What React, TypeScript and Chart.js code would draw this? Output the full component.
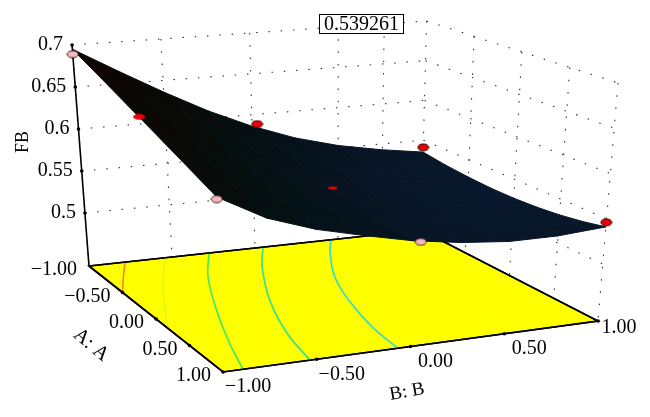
import React, { useEffect, useRef } from "react";
import { Chart, registerables } from "chart.js";

Chart.register(...registerables);

// ---- data ----
const bLevels = [-1, -0.75, -0.5, -0.25, 0, 0.25, 0.5, 0.75, 1];
const aLevels = [-1, -0.75, -0.5, -0.25, 0, 0.25, 0.5, 0.75, 1];
const surfaceAm100 = [0.695, 0.665, 0.636, 0.609, 0.586, 0.567, 0.553, 0.543, 0.535];
const surfaceAm075 = [0.6846, 0.6541, 0.6257, 0.6, 0.5778, 0.56, 0.5469, 0.538, 0.5313];
const surfaceAm050 = [0.6745, 0.6438, 0.6163, 0.5919, 0.5707, 0.554, 0.5419, 0.5344, 0.529];
const surfaceAm025 = [0.6645, 0.6339, 0.6075, 0.5848, 0.5645, 0.5492, 0.5382, 0.5319, 0.5278];
const surfaceA000 = [0.655, 0.6245, 0.5994, 0.5785, 0.5595, 0.5455, 0.5355, 0.5306, 0.528];
const surfaceA025 = [0.6457, 0.6156, 0.5921, 0.5733, 0.5555, 0.543, 0.534, 0.5305, 0.5294];
const surfaceA050 = [0.6368, 0.6073, 0.5857, 0.5689, 0.5526, 0.5415, 0.5339, 0.5317, 0.532];
const surfaceA075 = [0.628, 0.5995, 0.5799, 0.5655, 0.5506, 0.5412, 0.5347, 0.5342, 0.5359];
const surfaceA100 = [0.6196, 0.592, 0.5745, 0.562, 0.5505, 0.5425, 0.5375, 0.5373, 0.541];
const surfaceRows = [
  surfaceAm100, surfaceAm075, surfaceAm050, surfaceAm025, surfaceA000,
  surfaceA025, surfaceA050, surfaceA075, surfaceA100,
];

const designA = [-1, -0.08, 1, -1, 0, -1, 1, 1];
const designB = [-1, -1, -1, 0.03, 0, 1, 0.04, 1];
const designZ = [0.689, 0.6584, 0.6175, 0.588, 0.562, 0.541, 0.5484, 0.546];
const designKind = ["pink", "flat", "pink", "red", "sliver", "red", "pink", "red"];

const zTicks = [0.5, 0.55, 0.6, 0.65, 0.7];
const abTicks = [-1, -0.5, 0, 0.5, 1];
const abTickLabels = ["\u22121.00", "\u22120.50", "0.00", "0.50", "1.00"];
const zTickLabels = ["0.5", "0.55", "0.6", "0.65", "0.7"];
const wallBVerticals = [-1, -0.5, 0, 0.5, 0.76, 1];
const wallAVerticals = [-0.5, 0, 0.5, 1];
const readout = "0.539261";

const contourOrange = [[-1, -0.783], [-0.74, -0.9], [-0.5, -1]];
const contourLime = [[-1, -0.542], [-0.73, -0.666], [-0.462, -0.779], [-0.13, -0.9], [0.18, -1]];
const contourGreen = [[-1, -0.277], [-0.594, -0.461], [-0.024, -0.648], [0.546, -0.798], [1, -0.893]];
const contourTeal = [[-1, 0.048], [-0.66, -0.114], [-0.082, -0.322], [0.502, -0.466], [1, -0.536]];
const contourCyan = [[-1, 0.458], [-0.77, 0.34], [-0.342, 0.166], [0.08, 0.054], [0.586, -0.034], [1, -0.067]];

// ---- camera of the 3D box ----
const Z_FLOOR = 0.437;
const Z_TOP = 0.7;
const C00 = [89, 266];
const C10 = [223, 372];
const C01 = [421, 230];
const C11 = [598, 321];
const HEIGHTS = { h00: 221, h10: 252, h01: 209, h11: 238 };
const VP = [334, 3458];

function project(a: number, b: number, z: number) {
  const u = (a + 1) / 2;
  const v = (b + 1) / 2;
  const mix = (p00: number, p10: number, p01: number, p11: number) =>
    p00 * (1 - u) * (1 - v) + p10 * u * (1 - v) + p01 * (1 - u) * v + p11 * u * v;
  const fx = mix(C00[0], C10[0], C01[0], C11[0]);
  const fy = mix(C00[1], C10[1], C01[1], C11[1]);
  const h = mix(HEIGHTS.h00, HEIGHTS.h10, HEIGHTS.h01, HEIGHTS.h11);
  const t = (z - Z_FLOOR) / (Z_TOP - Z_FLOOR);
  return { x: fx + ((fx - VP[0]) / (VP[1] - fy)) * h * t, y: fy - h * t };
}

function surfaceColor(z: number) {
  const stops: [number, number[]][] = [
    [0.525, [10, 24, 46]],
    [0.55, [7, 20, 34]],
    [0.585, [4, 16, 20]],
    [0.63, [8, 10, 6]],
    [0.695, [16, 3, 3]],
  ];
  for (let i = 1; i < stops.length; i++) {
    if (z <= stops[i][0]) {
      const [z0, c0] = stops[i - 1];
      const [z1, c1] = stops[i];
      const t = Math.max(0, (z - z0) / (z1 - z0));
      return `rgb(${c0.map((c, k) => Math.round(c + (c1[k] - c) * t)).join(",")})`;
    }
  }
  return "rgb(16,3,3)";
}

function ellipse(w: number, h: number, fill: string, stroke: string | null) {
  const c = document.createElement("canvas");
  c.width = w + 2;
  c.height = h + 2;
  const g = c.getContext("2d")!;
  g.beginPath();
  g.ellipse(c.width / 2, c.height / 2, w / 2, h / 2, 0, 0, Math.PI * 2);
  g.fillStyle = fill;
  g.fill();
  if (stroke) {
    g.strokeStyle = stroke;
    g.lineWidth = 1;
    g.stroke();
  }
  return c;
}

const lineBase = {
  showLine: true,
  pointRadius: 0,
  fill: false,
  clip: false as const,
};

export default function App() {
  const ref = useRef<HTMLCanvasElement>(null);
  useEffect(() => {
    document.body.style.margin = "0";
    const styles: Record<string, HTMLCanvasElement> = {
      pink: ellipse(11, 7, "#f5b9bd", "#3a1a1a"),
      red: ellipse(11, 7, "#e60008", "#300000"),
      flat: ellipse(12, 6, "#e60008", null),
      sliver: ellipse(9, 3, "#e60008", null),
    };
    const datasets: any[] = [];

    // walls
    const dotted = { ...lineBase, borderColor: "#333", borderWidth: 1.1, borderDash: [1.5, 10.8], order: 50 };
    const span = [-1, 1];
    zTicks.forEach((z) => {
      datasets.push({ ...dotted, data: span.map((b) => project(-1, b, z)) });
      datasets.push({ ...dotted, data: span.map((a) => project(a, 1, z)) });
    });
    wallBVerticals.forEach((b) => {
      datasets.push({ ...dotted, data: [project(-1, b, Z_TOP), project(-1, b, Z_FLOOR)] });
    });
    wallAVerticals.forEach((a) => {
      datasets.push({ ...dotted, data: [project(a, 1, Z_TOP), project(a, 1, Z_FLOOR)] });
    });

    // floor
    datasets.push({
      ...lineBase,
      order: 40,
      fill: "shape",
      backgroundColor: "#ffff00",
      borderColor: "#000",
      borderWidth: 1.6,
      data: [project(-1, -1, Z_FLOOR), project(1, -1, Z_FLOOR), project(1, 1, Z_FLOOR), project(-1, 1, Z_FLOOR), project(-1, -1, Z_FLOOR)],
    });

    // contours
    const contours: [number[][], string, number][] = [
      [contourOrange, "#f08a1e", 1.6],
      [contourLime, "#c4f52a", 1],
      [contourGreen, "#46e862", 1.7],
      [contourTeal, "#34e48c", 1.7],
      [contourCyan, "#36dcc4", 1.7],
    ];
    contours.forEach(([pts, color, w]) => {
      datasets.push({
        ...lineBase,
        order: 30,
        borderColor: color,
        borderWidth: w,
        tension: 0.4,
        data: pts.map(([a, b]) => project(a, b, Z_FLOOR)),
      });
    });

    // floor frame and axes above contours
    datasets.push({
      ...lineBase,
      order: 25,
      borderColor: "#000",
      borderWidth: 1.6,
      data: [project(-1, 1, Z_FLOOR), project(-1, -1, Z_FLOOR), project(1, -1, Z_FLOOR), project(1, 1, Z_FLOOR), project(-1, 1, Z_FLOOR)],
    });
    datasets.push({
      ...lineBase,
      order: 25,
      borderColor: "#000",
      borderWidth: 1.6,
      data: [project(-1, -1, Z_TOP), project(-1, -1, Z_FLOOR)],
    });

    // surface
    for (let i = 0; i < aLevels.length - 1; i++) {
      for (let j = 0; j < bLevels.length - 1; j++) {
        const zs = [surfaceRows[i][j], surfaceRows[i + 1][j], surfaceRows[i + 1][j + 1], surfaceRows[i][j + 1]];
        const color = surfaceColor((zs[0] + zs[1] + zs[2] + zs[3]) / 4);
        const corners = [
          project(aLevels[i], bLevels[j], zs[0]),
          project(aLevels[i + 1], bLevels[j], zs[1]),
          project(aLevels[i + 1], bLevels[j + 1], zs[2]),
          project(aLevels[i], bLevels[j + 1], zs[3]),
        ];
        datasets.push({
          ...lineBase,
          order: 20,
          fill: "shape",
          backgroundColor: color,
          borderColor: color,
          borderWidth: 1,
          data: [...corners, corners[0]],
        });
      }
    }

    // ticks
    datasets.push({
      showLine: false,
      order: 15,
      clip: false,
      pointRadius: 1.8,
      pointBackgroundColor: "#000",
      pointBorderWidth: 0,
      data: [
        ...zTicks.map((z) => project(-1, -1, z)),
        ...abTicks.map((a) => project(a, -1, Z_FLOOR)).slice(1),
        ...abTicks.map((b) => project(1, b, Z_FLOOR)).slice(1),
      ],
    });

    // design points
    designA.forEach((a, i) => {
      datasets.push({
        showLine: false,
        order: 10,
        clip: false,
        pointStyle: styles[designKind[i]],
        data: [project(a, designB[i], designZ[i])],
      });
    });

    const textPlugin = {
      id: "axisText",
      afterDraw(chart: Chart) {
        const c = chart.ctx;
        c.save();
        c.fillStyle = "#000";
        c.font = '20px "Liberation Serif"';
        c.textBaseline = "middle";
        c.textAlign = "right";
        zTicks.forEach((z, i) => {
          const p = project(-1, -1, z);
          c.fillText(zTickLabels[i], p.x - 9, p.y);
        });
        abTicks.forEach((a, i) => {
          const p = project(a, -1, Z_FLOOR);
          c.fillText(abTickLabels[i], p.x - 12, p.y + 4);
        });
        c.textAlign = "center";
        abTicks.forEach((b, i) => {
          const p = project(1, b, Z_FLOOR);
          const last = i === abTicks.length - 1;
          c.fillText(abTickLabels[i], p.x + (last ? 21 : 25), p.y + (last ? 7 : 15));
        });
        const rotated = (text: string, x: number, y: number, deg: number, size: number) => {
          c.save();
          c.translate(x, y);
          c.rotate((deg * Math.PI) / 180);
          c.font = `${size}px "Liberation Serif"`;
          c.fillText(text, 0, 0);
          c.restore();
        };
        rotated("FB", 23, 142, -90, 18);
        rotated("A: A", 91, 345, 40, 20);
        rotated("B: B", 407, 392, -10, 19);
        // readout box
        c.fillStyle = "#fff";
        c.fillRect(319, 14, 85, 20);
        c.strokeStyle = "#000";
        c.lineWidth = 1;
        c.strokeRect(319.5, 14.5, 84, 19);
        c.fillStyle = "#000";
        c.font = '20px "Liberation Serif"';
        c.fillText(readout, 361.5, 24.5);
        c.restore();
      },
    };

    const chart = new Chart(ref.current!, {
      type: "scatter",
      data: { datasets },
      plugins: [textPlugin],
      options: {
        animation: false,
        responsive: false,
        layout: { padding: 0, autoPadding: false },
        plugins: { legend: { display: false }, tooltip: { enabled: false } },
        events: [],
        scales: {
          x: { type: "linear", min: 0, max: 650, display: false },
          y: { type: "linear", min: 0, max: 417, reverse: true, display: false },
        },
      },
    } as any);
    return () => chart.destroy();
  }, []);
  return <canvas ref={ref} width={650} height={417} style={{ display: "block" }} />;
}
